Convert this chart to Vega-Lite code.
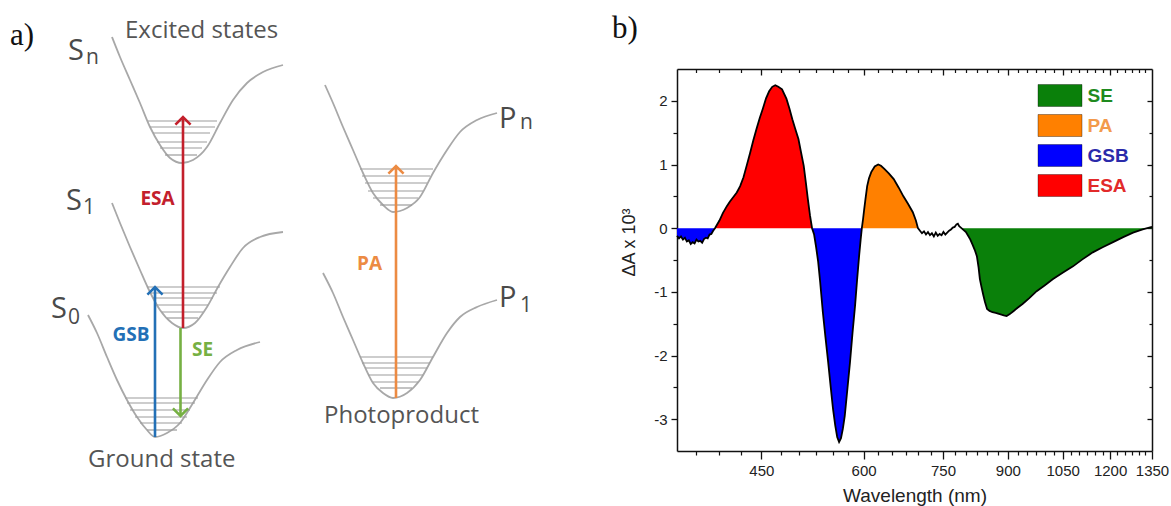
{
  "$schema": "https://vega.github.io/schema/vega-lite/v6.json",
  "width": 1171,
  "height": 506,
  "autosize": {"type": "none"},
  "padding": 0,
  "config": {"view": {"stroke": null}},
  "datasets": {
    "curves": [
      {"c":"Sn","dx":11.2,"dy":46.9},{"c":"Sn","dx":12.0,"dy":44.9},{"c":"Sn","dx":13.0,"dy":42.6},{"c":"Sn","dx":14.0,"dy":40.3},{"c":"Sn","dx":15.0,"dy":37.9},{"c":"Sn","dx":16.0,"dy":36.1},{"c":"Sn","dx":17.0,"dy":34.8},{"c":"Sn","dx":18.2,"dy":34.3},{"c":"Sn","dx":19.3,"dy":34.6},{"c":"Sn","dx":20.7,"dy":35.9},{"c":"Sn","dx":22.0,"dy":38.3},{"c":"Sn","dx":23.3,"dy":40.6},{"c":"Sn","dx":24.7,"dy":42.3},{"c":"Sn","dx":26.3,"dy":43.4},{"c":"Sn","dx":28.3,"dy":44.1},
      {"c":"S1","dx":11.2,"dy":30.3},{"c":"S1","dx":12.0,"dy":28.3},{"c":"S1","dx":13.0,"dy":25.9},{"c":"S1","dx":14.0,"dy":23.6},{"c":"S1","dx":14.8,"dy":21.8},{"c":"S1","dx":16.0,"dy":19.6},{"c":"S1","dx":17.2,"dy":18.3},{"c":"S1","dx":18.3,"dy":17.8},{"c":"S1","dx":19.5,"dy":18.3},{"c":"S1","dx":20.7,"dy":19.9},{"c":"S1","dx":21.8,"dy":21.9},{"c":"S1","dx":23.0,"dy":23.9},{"c":"S1","dx":24.3,"dy":25.8},{"c":"S1","dx":26.0,"dy":26.9},{"c":"S1","dx":28.3,"dy":27.4},
      {"c":"S0","dx":8.8,"dy":19.1},{"c":"S0","dx":9.7,"dy":17.3},{"c":"S0","dx":10.7,"dy":14.9},{"c":"S0","dx":11.7,"dy":12.6},{"c":"S0","dx":12.7,"dy":10.6},{"c":"S0","dx":13.7,"dy":8.9},{"c":"S0","dx":14.7,"dy":7.6},{"c":"S0","dx":15.5,"dy":6.9},{"c":"S0","dx":16.7,"dy":7.3},{"c":"S0","dx":18.0,"dy":8.3},{"c":"S0","dx":19.3,"dy":10.3},{"c":"S0","dx":20.7,"dy":12.6},{"c":"S0","dx":22.0,"dy":14.4},{"c":"S0","dx":23.7,"dy":15.6},{"c":"S0","dx":26.0,"dy":16.4},
      {"c":"Pn","dx":32.5,"dy":42.1},{"c":"Pn","dx":33.3,"dy":40.3},{"c":"Pn","dx":34.3,"dy":37.9},{"c":"Pn","dx":35.3,"dy":35.6},{"c":"Pn","dx":36.3,"dy":33.3},{"c":"Pn","dx":37.3,"dy":31.3},{"c":"Pn","dx":38.3,"dy":30.1},{"c":"Pn","dx":39.3,"dy":29.4},{"c":"Pn","dx":40.7,"dy":29.8},{"c":"Pn","dx":42.0,"dy":30.9},{"c":"Pn","dx":43.3,"dy":33.3},{"c":"Pn","dx":44.7,"dy":35.6},{"c":"Pn","dx":46.0,"dy":37.4},{"c":"Pn","dx":47.7,"dy":38.6},{"c":"Pn","dx":49.7,"dy":39.3},
      {"c":"P1","dx":32.3,"dy":23.3},{"c":"P1","dx":33.3,"dy":21.3},{"c":"P1","dx":34.3,"dy":18.9},{"c":"P1","dx":35.3,"dy":16.6},{"c":"P1","dx":36.3,"dy":14.3},{"c":"P1","dx":37.3,"dy":12.3},{"c":"P1","dx":38.3,"dy":11.3},{"c":"P1","dx":39.3,"dy":10.8},{"c":"P1","dx":40.7,"dy":11.3},{"c":"P1","dx":42.0,"dy":12.6},{"c":"P1","dx":43.3,"dy":14.9},{"c":"P1","dx":44.7,"dy":17.3},{"c":"P1","dx":46.0,"dy":18.9},{"c":"P1","dx":47.7,"dy":19.9},{"c":"P1","dx":49.7,"dy":20.6}
    ],
    "levels": [
      {"w":"Sn","dx":14.8,"dx2":21.7,"dy":38.5},{"w":"Sn","dx":15.0,"dx2":21.5,"dy":37.9},{"w":"Sn","dx":15.3,"dx2":21.0,"dy":37.3},{"w":"Sn","dx":15.7,"dx2":20.7,"dy":36.4},{"w":"Sn","dx":16.0,"dx2":20.2,"dy":35.8},{"w":"Sn","dx":16.5,"dx2":19.7,"dy":35.1},
      {"w":"S1","dx":14.7,"dx2":22.0,"dy":21.9},{"w":"S1","dx":15.0,"dx2":21.7,"dy":21.3},{"w":"S1","dx":15.3,"dx2":21.3,"dy":20.8},{"w":"S1","dx":15.7,"dx2":20.8,"dy":20.1},{"w":"S1","dx":16.2,"dx2":20.3,"dy":19.4},{"w":"S1","dx":16.7,"dx2":19.8,"dy":18.8},
      {"w":"S0","dx":12.5,"dx2":19.8,"dy":10.8},{"w":"S0","dx":12.7,"dx2":19.5,"dy":10.3},{"w":"S0","dx":13.0,"dx2":19.0,"dy":9.6},{"w":"S0","dx":13.5,"dx2":18.7,"dy":8.9},{"w":"S0","dx":14.0,"dx2":18.2,"dy":8.3},{"w":"S0","dx":14.7,"dx2":17.7,"dy":7.6},
      {"w":"Pn","dx":36.0,"dx2":43.3,"dy":33.7},{"w":"Pn","dx":36.2,"dx2":43.0,"dy":33.0},{"w":"Pn","dx":36.5,"dx2":42.7,"dy":32.3},{"w":"Pn","dx":36.8,"dx2":42.3,"dy":31.5},{"w":"Pn","dx":37.3,"dx2":41.8,"dy":30.8},{"w":"Pn","dx":38.0,"dx2":41.2,"dy":30.1},
      {"w":"P1","dx":36.0,"dx2":43.3,"dy":14.9},{"w":"P1","dx":36.2,"dx2":43.0,"dy":14.3},{"w":"P1","dx":36.5,"dx2":42.7,"dy":13.8},{"w":"P1","dx":36.8,"dx2":42.3,"dy":13.1},{"w":"P1","dx":37.3,"dx2":41.8,"dy":12.4},{"w":"P1","dx":38.0,"dx2":41.2,"dy":11.8}
    ],
    "arrows": [
      {"kind":"ESA","dx":18.3,"dy":17.8,"dy2":38.9,"dir":"up"},
      {"kind":"GSB","dx":15.5,"dy":6.9,"dy2":21.9,"dir":"up"},
      {"kind":"SE","dx":18.05,"dy":17.8,"dy2":9.0,"dir":"down"},
      {"kind":"PA","dx":39.6,"dy":10.8,"dy2":34.0,"dir":"up"}
    ],
    "alabels": [
      {"kind":"ESA","text":"ESA","dx":15.75,"dy":30.75},
      {"kind":"GSB","text":"GSB","dx":13.1,"dy":17.1},
      {"kind":"SE","text":"SE","dx":20.25,"dy":15.6},
      {"kind":"PA","text":"PA","dx":36.95,"dy":24.2}
    ],
    "labels": [
      {"role":"panel","text":"a)","dx":1.0,"dy":46.1},
      {"role":"panel","text":"b)","dx":61.2,"dy":46.8},
      {"role":"note","text":"Excited states","dx":12.5,"dy":46.8},
      {"role":"note","text":"Ground state","dx":8.8,"dy":3.9},
      {"role":"note","text":"Photoproduct","dx":32.4,"dy":8.3},
      {"role":"state","text":"S","dx":6.8,"dy":44.6},
      {"role":"state","text":"S","dx":6.6,"dy":29.6},
      {"role":"state","text":"S","dx":5.1,"dy":18.8},
      {"role":"state","text":"P","dx":49.9,"dy":37.8},
      {"role":"state","text":"P","dx":49.9,"dy":19.9},
      {"role":"sub","text":"n","dx":8.6,"dy":44.2},
      {"role":"sub","text":"1","dx":8.3,"dy":29.2},
      {"role":"sub","text":"0","dx":6.8,"dy":18.2},
      {"role":"sub","text":"n","dx":52.0,"dy":37.7},
      {"role":"sub","text":"1","dx":52.0,"dy":19.4}
    ],
    "spec": [
      {"lam":355,"dA":-0.12,"type":"GSB","seg":"g1"},{"lam":357,"dA":-0.16,"type":"GSB","seg":"g1"},{"lam":359,"dA":-0.13,"type":"GSB","seg":"g1"},{"lam":361,"dA":-0.18,"type":"GSB","seg":"g1"},{"lam":363,"dA":-0.15,"type":"GSB","seg":"g1"},{"lam":365,"dA":-0.21,"type":"GSB","seg":"g1"},{"lam":367,"dA":-0.19,"type":"GSB","seg":"g1"},{"lam":369,"dA":-0.25,"type":"GSB","seg":"g1"},{"lam":371,"dA":-0.22,"type":"GSB","seg":"g1"},{"lam":373,"dA":-0.24,"type":"GSB","seg":"g1"},{"lam":375,"dA":-0.18,"type":"GSB","seg":"g1"},{"lam":377,"dA":-0.21,"type":"GSB","seg":"g1"},{"lam":379,"dA":-0.2,"type":"GSB","seg":"g1"},{"lam":381,"dA":-0.23,"type":"GSB","seg":"g1"},{"lam":383,"dA":-0.17,"type":"GSB","seg":"g1"},{"lam":385,"dA":-0.15,"type":"GSB","seg":"g1"},{"lam":387,"dA":-0.16,"type":"GSB","seg":"g1"},{"lam":389,"dA":-0.1,"type":"GSB","seg":"g1"},{"lam":391,"dA":-0.09,"type":"GSB","seg":"g1"},{"lam":393,"dA":-0.04,"type":"GSB","seg":"g1"},{"lam":395,"dA":0,"type":"GSB","seg":"g1"},
      {"lam":395,"dA":0,"type":"ESA","seg":"e"},{"lam":400,"dA":0.12,"type":"ESA","seg":"e"},{"lam":404,"dA":0.24,"type":"ESA","seg":"e"},{"lam":408.6,"dA":0.35,"type":"ESA","seg":"e"},{"lam":412,"dA":0.42,"type":"ESA","seg":"e"},{"lam":416,"dA":0.49,"type":"ESA","seg":"e"},{"lam":420,"dA":0.56,"type":"ESA","seg":"e"},{"lam":424,"dA":0.66,"type":"ESA","seg":"e"},{"lam":428,"dA":0.8,"type":"ESA","seg":"e"},{"lam":432,"dA":0.99,"type":"ESA","seg":"e"},{"lam":436,"dA":1.18,"type":"ESA","seg":"e"},{"lam":440,"dA":1.38,"type":"ESA","seg":"e"},{"lam":444,"dA":1.56,"type":"ESA","seg":"e"},{"lam":448,"dA":1.73,"type":"ESA","seg":"e"},{"lam":452,"dA":1.88,"type":"ESA","seg":"e"},{"lam":456,"dA":2.04,"type":"ESA","seg":"e"},{"lam":460,"dA":2.15,"type":"ESA","seg":"e"},{"lam":464,"dA":2.22,"type":"ESA","seg":"e"},{"lam":468,"dA":2.245,"type":"ESA","seg":"e"},{"lam":472,"dA":2.22,"type":"ESA","seg":"e"},{"lam":477,"dA":2.18,"type":"ESA","seg":"e"},{"lam":483,"dA":2.03,"type":"ESA","seg":"e"},{"lam":487,"dA":1.88,"type":"ESA","seg":"e"},{"lam":491,"dA":1.71,"type":"ESA","seg":"e"},{"lam":495,"dA":1.56,"type":"ESA","seg":"e"},{"lam":499.5,"dA":1.4,"type":"ESA","seg":"e"},{"lam":503,"dA":1.2,"type":"ESA","seg":"e"},{"lam":507,"dA":0.98,"type":"ESA","seg":"e"},{"lam":510,"dA":0.72,"type":"ESA","seg":"e"},{"lam":513,"dA":0.45,"type":"ESA","seg":"e"},{"lam":516,"dA":0.2,"type":"ESA","seg":"e"},{"lam":519,"dA":0,"type":"ESA","seg":"e"},
      {"lam":519,"dA":0,"type":"GSB","seg":"g2"},{"lam":522,"dA":-0.1,"type":"GSB","seg":"g2"},{"lam":525,"dA":-0.3,"type":"GSB","seg":"g2"},{"lam":528,"dA":-0.53,"type":"GSB","seg":"g2"},{"lam":531,"dA":-0.85,"type":"GSB","seg":"g2"},{"lam":535,"dA":-1.32,"type":"GSB","seg":"g2"},{"lam":539,"dA":-1.72,"type":"GSB","seg":"g2"},{"lam":543,"dA":-2.1,"type":"GSB","seg":"g2"},{"lam":547,"dA":-2.5,"type":"GSB","seg":"g2"},{"lam":550.5,"dA":-2.84,"type":"GSB","seg":"g2"},{"lam":554,"dA":-3.1,"type":"GSB","seg":"g2"},{"lam":557,"dA":-3.28,"type":"GSB","seg":"g2"},{"lam":560,"dA":-3.36,"type":"GSB","seg":"g2"},{"lam":563,"dA":-3.3,"type":"GSB","seg":"g2"},{"lam":566,"dA":-3.15,"type":"GSB","seg":"g2"},{"lam":569,"dA":-2.95,"type":"GSB","seg":"g2"},{"lam":573,"dA":-2.55,"type":"GSB","seg":"g2"},{"lam":577.5,"dA":-2.1,"type":"GSB","seg":"g2"},{"lam":581.5,"dA":-1.65,"type":"GSB","seg":"g2"},{"lam":585.7,"dA":-1.22,"type":"GSB","seg":"g2"},{"lam":589,"dA":-0.82,"type":"GSB","seg":"g2"},{"lam":592.4,"dA":-0.44,"type":"GSB","seg":"g2"},{"lam":595,"dA":-0.18,"type":"GSB","seg":"g2"},{"lam":597,"dA":0,"type":"GSB","seg":"g2"},
      {"lam":597,"dA":0,"type":"PA","seg":"p"},{"lam":599,"dA":0.14,"type":"PA","seg":"p"},{"lam":601,"dA":0.3,"type":"PA","seg":"p"},{"lam":603,"dA":0.45,"type":"PA","seg":"p"},{"lam":606,"dA":0.66,"type":"PA","seg":"p"},{"lam":609,"dA":0.78,"type":"PA","seg":"p"},{"lam":613,"dA":0.88,"type":"PA","seg":"p"},{"lam":619,"dA":0.97,"type":"PA","seg":"p"},{"lam":625,"dA":1.0,"type":"PA","seg":"p"},{"lam":630,"dA":0.98,"type":"PA","seg":"p"},{"lam":636,"dA":0.93,"type":"PA","seg":"p"},{"lam":644,"dA":0.86,"type":"PA","seg":"p"},{"lam":653,"dA":0.77,"type":"PA","seg":"p"},{"lam":662,"dA":0.64,"type":"PA","seg":"p"},{"lam":671,"dA":0.5,"type":"PA","seg":"p"},{"lam":680,"dA":0.38,"type":"PA","seg":"p"},{"lam":689,"dA":0.25,"type":"PA","seg":"p"},{"lam":695,"dA":0.12,"type":"PA","seg":"p"},{"lam":699,"dA":0,"type":"PA","seg":"p"},
      {"lam":703,"dA":-0.04,"type":"none","seg":"n"},{"lam":707,"dA":-0.08,"type":"none","seg":"n"},{"lam":711,"dA":-0.05,"type":"none","seg":"n"},{"lam":715,"dA":-0.1,"type":"none","seg":"n"},{"lam":719,"dA":-0.06,"type":"none","seg":"n"},{"lam":723,"dA":-0.11,"type":"none","seg":"n"},{"lam":727,"dA":-0.08,"type":"none","seg":"n"},{"lam":731,"dA":-0.13,"type":"none","seg":"n"},{"lam":735,"dA":-0.07,"type":"none","seg":"n"},{"lam":739,"dA":-0.12,"type":"none","seg":"n"},{"lam":743,"dA":-0.09,"type":"none","seg":"n"},{"lam":747,"dA":-0.11,"type":"none","seg":"n"},{"lam":751,"dA":-0.06,"type":"none","seg":"n"},{"lam":755,"dA":-0.1,"type":"none","seg":"n"},{"lam":759,"dA":-0.07,"type":"none","seg":"n"},{"lam":763,"dA":-0.04,"type":"none","seg":"n"},{"lam":767,"dA":-0.02,"type":"none","seg":"n"},{"lam":771,"dA":0.01,"type":"none","seg":"n"},{"lam":775,"dA":0.02,"type":"none","seg":"n"},{"lam":779,"dA":0.06,"type":"none","seg":"n"},{"lam":782,"dA":0.07,"type":"none","seg":"n"},{"lam":785,"dA":0.03,"type":"none","seg":"n"},
      {"lam":790,"dA":0,"type":"SE","seg":"s"},{"lam":795,"dA":-0.03,"type":"SE","seg":"s"},{"lam":800,"dA":-0.06,"type":"SE","seg":"s"},{"lam":805,"dA":-0.12,"type":"SE","seg":"s"},{"lam":810,"dA":-0.18,"type":"SE","seg":"s"},{"lam":815,"dA":-0.26,"type":"SE","seg":"s"},{"lam":820,"dA":-0.34,"type":"SE","seg":"s"},{"lam":825,"dA":-0.44,"type":"SE","seg":"s"},{"lam":829,"dA":-0.62,"type":"SE","seg":"s"},{"lam":832,"dA":-0.8,"type":"SE","seg":"s"},{"lam":836,"dA":-0.93,"type":"SE","seg":"s"},{"lam":840,"dA":-1.05,"type":"SE","seg":"s"},{"lam":844,"dA":-1.16,"type":"SE","seg":"s"},{"lam":849,"dA":-1.27,"type":"SE","seg":"s"},{"lam":855,"dA":-1.3,"type":"SE","seg":"s"},{"lam":862,"dA":-1.32,"type":"SE","seg":"s"},{"lam":870,"dA":-1.33,"type":"SE","seg":"s"},{"lam":880,"dA":-1.35,"type":"SE","seg":"s"},{"lam":890,"dA":-1.37,"type":"SE","seg":"s"},{"lam":897,"dA":-1.38,"type":"SE","seg":"s"},{"lam":905,"dA":-1.35,"type":"SE","seg":"s"},{"lam":915,"dA":-1.3,"type":"SE","seg":"s"},{"lam":925,"dA":-1.25,"type":"SE","seg":"s"},{"lam":938,"dA":-1.19,"type":"SE","seg":"s"},{"lam":956,"dA":-1.1,"type":"SE","seg":"s"},{"lam":976,"dA":-0.99,"type":"SE","seg":"s"},{"lam":998,"dA":-0.9,"type":"SE","seg":"s"},{"lam":1022,"dA":-0.8,"type":"SE","seg":"s"},{"lam":1050,"dA":-0.7,"type":"SE","seg":"s"},{"lam":1081,"dA":-0.6,"type":"SE","seg":"s"},{"lam":1110,"dA":-0.49,"type":"SE","seg":"s"},{"lam":1143,"dA":-0.38,"type":"SE","seg":"s"},{"lam":1175,"dA":-0.3,"type":"SE","seg":"s"},{"lam":1210,"dA":-0.22,"type":"SE","seg":"s"},{"lam":1245,"dA":-0.14,"type":"SE","seg":"s"},{"lam":1280,"dA":-0.07,"type":"SE","seg":"s"},{"lam":1315,"dA":-0.02,"type":"SE","seg":"s"},{"lam":1350,"dA":0.02,"type":"SE","seg":"s"}
    ]
  },
  "layer": [
    {
      "encoding": {
        "x": {"field": "dx", "type": "quantitative", "scale": {"domain": [0, 117.1], "nice": false, "zero": false}, "axis": null},
        "y": {"field": "dy", "type": "quantitative", "scale": {"domain": [0, 50.6], "nice": false, "zero": false}, "axis": null}
      },
      "layer": [
        {
          "data": {"name": "curves"},
          "mark": {"type": "line", "color": "#a8a8a8", "strokeWidth": 1.8, "interpolate": "monotone"},
          "encoding": {"detail": {"field": "c"}}
        },
        {
          "data": {"name": "levels"},
          "mark": {"type": "rule", "color": "#9c9c9c", "strokeWidth": 1.2},
          "encoding": {"x2": {"field": "dx2"}}
        },
        {
          "data": {"name": "arrows"},
          "mark": {"type": "rule", "strokeWidth": 2.6},
          "encoding": {
            "y2": {"field": "dy2"},
            "color": {"field": "kind", "type": "nominal", "scale": {"domain": ["ESA","GSB","SE","PA"], "range": ["#c3202c","#2370b6","#76b043","#ec8b43"]}, "legend": null}
          }
        },
        {
          "data": {"name": "arrows"},
          "mark": {"type": "point", "filled": false, "strokeWidth": 2.6, "size": 230, "opacity": 1},
          "encoding": {
            "y": {"field": "dy2", "type": "quantitative", "scale": {"domain": [0, 50.6], "nice": false, "zero": false}, "axis": null},
            "color": {"field": "kind", "type": "nominal", "scale": {"domain": ["ESA","GSB","SE","PA"], "range": ["#c3202c","#2370b6","#76b043","#ec8b43"]}, "legend": null},
            "shape": {"field": "dir", "type": "nominal", "scale": {"domain": ["up","down"], "range": ["M-1,1L0,0L1,1", "M-1,-1L0,0L1,-1"]}, "legend": null}
          }
        },
        {
          "data": {"name": "alabels"},
          "mark": {"type": "text", "font": "Open Sans", "fontSize": 19, "fontWeight": "bold", "align": "center", "baseline": "middle"},
          "encoding": {
            "text": {"field": "text"},
            "color": {"field": "kind", "type": "nominal", "scale": {"domain": ["ESA","GSB","SE","PA"], "range": ["#c3202c","#2370b6","#76b043","#ec8b43"]}, "legend": null}
          }
        },
        {
          "data": {"name": "labels"},
          "transform": [{"filter": "datum.role === 'note'"}],
          "mark": {"type": "text", "font": "Open Sans", "fontSize": 24, "color": "#555555", "align": "left", "baseline": "alphabetic"},
          "encoding": {"text": {"field": "text"}}
        },
        {
          "data": {"name": "labels"},
          "transform": [{"filter": "datum.role === 'state'"}],
          "mark": {"type": "text", "font": "Open Sans", "fontSize": 29, "color": "#4a4a4a", "align": "left", "baseline": "alphabetic"},
          "encoding": {"text": {"field": "text"}}
        },
        {
          "data": {"name": "labels"},
          "transform": [{"filter": "datum.role === 'sub'"}],
          "mark": {"type": "text", "font": "Open Sans", "fontSize": 21, "color": "#4a4a4a", "align": "left", "baseline": "alphabetic"},
          "encoding": {"text": {"field": "text"}}
        },
        {
          "data": {"name": "labels"},
          "transform": [{"filter": "datum.role === 'panel'"}],
          "mark": {"type": "text", "font": "Liberation Serif", "fontSize": 31, "color": "#111111", "align": "left", "baseline": "alphabetic"},
          "encoding": {"text": {"field": "text"}}
        }
      ]
    },
    {
      "data": {"name": "spec"},
      "layer": [
        {
          "transform": [{"filter": "datum.type !== 'none'"}],
          "mark": {"type": "area", "opacity": 1},
          "encoding": {
            "x": {"field": "lam", "type": "quantitative", "scale": {"type": "log", "domain": [355, 1350], "range": [677, 1152], "nice": false},
              "axis": {"orient": "bottom", "offset": -55, "values": [450, 600, 750, 900, 1050, 1200, 1350], "labelExpr": "'' + datum.value", "labelFlush": false, "labelOverlap": false, "grid": false, "tickSize": 8, "tickWidth": 1.3, "tickColor": "#111111", "domainColor": "#111111", "domainWidth": 1.5, "labelFont": "Liberation Sans", "labelFontSize": 15, "labelColor": "#222222", "labelPadding": 4, "title": "Wavelength (nm)", "titleFont": "Liberation Sans", "titleFontSize": 19, "titleFontWeight": "normal", "titleColor": "#222222", "titlePadding": 8}},
            "y": {"field": "dA", "type": "quantitative", "stack": null, "scale": {"domain": [-3.5, 2.5], "range": [451, 69], "nice": false, "zero": false},
              "axis": {"orient": "left", "offset": -677, "values": [-3, -2, -1, 0, 1, 2], "labelExpr": "'' + datum.value", "labelOverlap": false, "grid": false, "tickSize": 6, "tickWidth": 1.3, "tickColor": "#111111", "domainColor": "#111111", "domainWidth": 1.5, "labelFont": "Liberation Sans", "labelFontSize": 15, "labelColor": "#222222", "labelPadding": 4, "title": "ΔA x 10³", "titleFont": "Liberation Sans", "titleFontSize": 18, "titleFontWeight": "normal", "titleColor": "#222222", "titleX": -39, "titleY": 242}},
            "y2": {"datum": 0},
            "detail": {"field": "seg"},
            "color": {"field": "type", "type": "nominal", "scale": {"domain": ["SE", "PA", "GSB", "ESA"], "range": ["#0a800a", "#ff8000", "#0000ff", "#ff0000"]},
              "legend": {"orient": "none", "legendX": 1048.5, "legendY": 84, "title": null, "padding": 0, "symbolType": "M-2,-1H2V1H-2Z", "symbolSize": 484, "symbolStrokeColor": "rgba(0,0,0,0.35)", "symbolStrokeWidth": 1, "symbolOpacity": 1, "labelFont": "Liberation Sans", "labelFontSize": 19, "labelFontWeight": "bold", "labelOffset": 16, "rowPadding": 3,
                "labelColor": {"expr": "datum.value === 'SE' ? '#1f8a1f' : datum.value === 'PA' ? '#f39a4c' : datum.value === 'GSB' ? '#2a2aaa' : '#e22a2a'"}}}
          }
        },
        {
          "mark": {"type": "line", "color": "#000000", "strokeWidth": 1.8},
          "encoding": {
            "x": {"field": "lam", "type": "quantitative", "scale": {"type": "log", "domain": [355, 1350], "range": [677, 1152], "nice": false},
              "axis": {"orient": "bottom", "offset": -55, "values": [375,400,425,475,500,525,550,575,625,650,675,700,725,775,800,825,850,875,925,950,975,1000,1025,1075,1100,1125,1150,1175,1225,1250,1275,1300,1325], "labels": false, "domain": false, "grid": false, "tickSize": 4, "tickWidth": 1.2, "tickColor": "#111111", "title": null}},
            "y": {"field": "dA", "type": "quantitative", "scale": {"domain": [-3.5, 2.5], "range": [451, 69], "nice": false, "zero": false},
              "axis": {"orient": "left", "offset": -677, "values": [-2.5, -1.5, -0.5, 0.5, 1.5], "labels": false, "domain": false, "grid": false, "tickSize": 4, "tickWidth": 1.2, "tickColor": "#111111", "title": null}}
          }
        },
        {
          "mark": {"type": "line", "opacity": 0},
          "encoding": {
            "x": {"field": "lam", "type": "quantitative", "scale": {"type": "log", "domain": [355, 1350], "range": [677, 1152], "nice": false},
              "axis": {"orient": "top", "offset": -69, "values": [450, 600, 750, 900, 1050, 1200], "labels": false, "grid": false, "tickSize": -6, "tickWidth": 1.3, "tickColor": "#111111", "domainColor": "#111111", "domainWidth": 1.5, "title": null}},
            "y": {"field": "dA", "type": "quantitative", "scale": {"domain": [-3.5, 2.5], "range": [451, 69], "nice": false, "zero": false},
              "axis": {"orient": "right", "offset": -19, "values": [-3, -2, -1, 0, 1, 2], "labels": false, "grid": false, "tickSize": -5, "tickWidth": 1.3, "tickColor": "#111111", "domainColor": "#111111", "domainWidth": 1.5, "title": null}}
          }
        },
        {
          "mark": {"type": "line", "opacity": 0},
          "encoding": {
            "x": {"field": "lam", "type": "quantitative", "scale": {"type": "log", "domain": [355, 1350], "range": [677, 1152], "nice": false},
              "axis": {"orient": "top", "offset": -69, "values": [375,400,425,475,500,525,550,575,625,650,675,700,725,775,800,825,850,875,925,950,975,1000,1025,1075,1100,1125,1150,1175,1225,1250,1275,1300,1325], "labels": false, "domain": false, "grid": false, "tickSize": -3.5, "tickWidth": 1.2, "tickColor": "#111111", "title": null}},
            "y": {"field": "dA", "type": "quantitative", "scale": {"domain": [-3.5, 2.5], "range": [451, 69], "nice": false, "zero": false},
              "axis": {"orient": "right", "offset": -19, "values": [-2.5, -1.5, -0.5, 0.5, 1.5], "labels": false, "domain": false, "grid": false, "tickSize": -3, "tickWidth": 1.2, "tickColor": "#111111", "title": null}}
          }
        }
      ],
      "resolve": {"axis": {"x": "independent", "y": "independent"}}
    }
  ],
  "resolve": {"scale": {"x": "independent", "y": "independent", "color": "independent", "shape": "independent"}}
}
